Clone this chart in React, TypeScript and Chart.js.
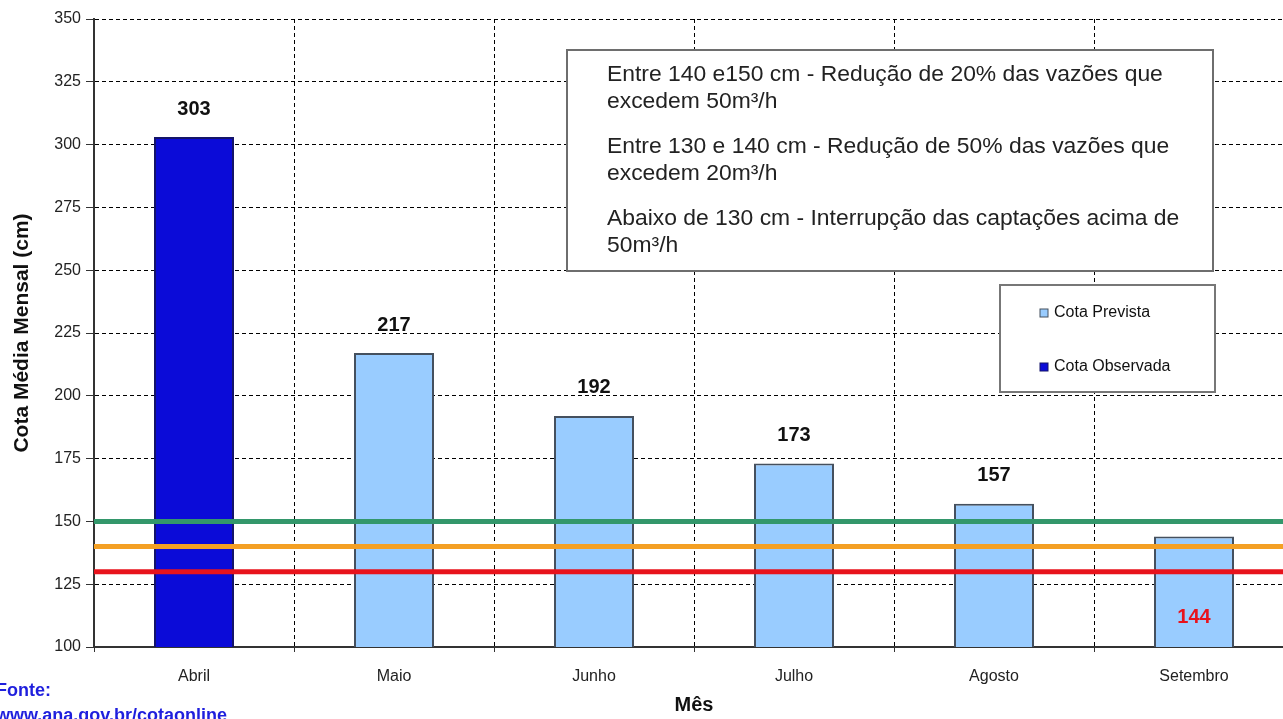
import React, { useEffect, useRef } from "react";
import { Chart, registerables } from "chart.js";

Chart.register(...registerables);

const months = ["Abril", "Maio", "Junho", "Julho", "Agosto", "Setembro"];
const observed = [303, null, null, null, null, null];
const predicted = [null, 217, 192, 173, 157, 144];
const thresholds = [150, 140, 130];
const thresholdColors = ["#33976B", "#F4A024", "#E8131C"];
const yMin = 100;
const yMax = 350;
const yStep = 25;
const ruleLines = [
  "Entre 140 e150 cm - Redução de 20% das vazões que",
  "excedem 50m³/h",
  "Entre 130 e 140 cm - Redução de 50% das vazões que",
  "excedem 20m³/h",
  "Abaixo de 130 cm - Interrupção das captações acima de",
  "50m³/h",
];
const sourceLines = ["Fonte:", "www.ana.gov.br/cotaonline"];

const FONT = "'Liberation Sans', Arial, sans-serif";
const OBS_COLOR = "#0B0BD8";
const OBS_BORDER = "#14146A";
const PRED_COLOR = "#99CCFF";
const PRED_BORDER = "#45505E";

const overlayPlugin = {
  id: "overlay",
  afterDatasetsDraw(chart: any) {
    const ctx = chart.ctx;
    const y = chart.scales.y;
    const area = chart.chartArea;

    // threshold lines
    ctx.save();
    thresholds.forEach((t, i) => {
      const py = y.getPixelForValue(t);
      ctx.strokeStyle = thresholdColors[i];
      ctx.lineWidth = 5;
      ctx.beginPath();
      ctx.moveTo(area.left, py);
      ctx.lineTo(area.right, py);
      ctx.stroke();
    });
    ctx.restore();

    // value labels
    ctx.save();
    ctx.textAlign = "center";
    ctx.textBaseline = "middle";
    ctx.font = `bold 20px ${FONT}`;
    chart.data.datasets.forEach((ds: any, di: number) => {
      const meta = chart.getDatasetMeta(di);
      ds.data.forEach((v: number | null, i: number) => {
        if (v == null) return;
        const el = meta.data[i];
        if (v < thresholds[0]) {
          ctx.fillStyle = "#E8131C";
          ctx.fillText(String(v), el.x, area.bottom - 30);
        } else {
          ctx.fillStyle = "#111";
          ctx.fillText(String(v), el.x, el.y - 28);
        }
      });
    });
    ctx.restore();

    // rules box
    ctx.save();
    ctx.fillStyle = "#fff";
    ctx.strokeStyle = "#6E6E6E";
    ctx.lineWidth = 2;
    ctx.fillRect(567, 50, 646, 221);
    ctx.strokeRect(567, 50, 646, 221);
    ctx.fillStyle = "#222";
    ctx.font = `22px ${FONT}`;
    ctx.textBaseline = "middle";
    ctx.textAlign = "left";
    const ys = [75, 102, 147, 174, 219, 246];
    ruleLines.forEach((l, i) => {
      ctx.save();
      ctx.translate(607, ys[i]);
      ctx.scale(1.04, 1);
      ctx.fillText(l, 0, 0);
      ctx.restore();
    });
    ctx.restore();

    // legend box
    ctx.save();
    ctx.fillStyle = "#fff";
    ctx.strokeStyle = "#777";
    ctx.lineWidth = 2;
    ctx.fillRect(1000, 285, 215, 107);
    ctx.strokeRect(1000, 285, 215, 107);
    const items = [
      { label: chart.data.datasets[1].label, fill: PRED_COLOR, border: PRED_BORDER, y: 313 },
      { label: chart.data.datasets[0].label, fill: OBS_COLOR, border: OBS_BORDER, y: 367 },
    ];
    ctx.font = `16px ${FONT}`;
    ctx.textBaseline = "middle";
    items.forEach((it) => {
      ctx.fillStyle = it.fill;
      ctx.fillRect(1040, it.y - 4, 8, 8);
      ctx.strokeStyle = it.border;
      ctx.lineWidth = 1;
      ctx.strokeRect(1040, it.y - 4, 8, 8);
      ctx.fillStyle = "#111";
      ctx.fillText(it.label, 1054, it.y);
    });
    ctx.restore();

    // source text
    ctx.save();
    ctx.fillStyle = "#1F1FDD";
    ctx.font = `bold 18px ${FONT}`;
    ctx.textBaseline = "middle";
    ctx.fillText(sourceLines[0], -4, 691);
    ctx.fillText(sourceLines[1], -4, 716);
    ctx.restore();
  },
};

export default function App() {
  const ref = useRef<HTMLCanvasElement | null>(null);
  useEffect(() => {
    if (!ref.current) return;
    const chart = new Chart(ref.current, {
      type: "bar",
      data: {
        labels: months,
        datasets: [
          {
            label: "Cota Observada",
            data: observed,
            backgroundColor: OBS_COLOR,
            borderColor: OBS_BORDER,
            borderWidth: 2,
            barPercentage: 0.4,
            categoryPercentage: 1,
          },
          {
            label: "Cota Prevista",
            data: predicted,
            backgroundColor: PRED_COLOR,
            borderColor: PRED_BORDER,
            borderWidth: 2,
            barPercentage: 0.4,
            categoryPercentage: 1,
          },
        ],
      },
      options: {
        responsive: false,
        maintainAspectRatio: false,
        animation: false,
        devicePixelRatio: 1,
        layout: { padding: { top: 19, right: 16, left: 0, bottom: 0 } },
        plugins: {
          legend: { display: false },
          tooltip: { enabled: false },
        },
        scales: {
          x: {
            stacked: true,
            afterFit: (s: any) => {
              s.height = 72;
            },
            grid: {
              color: "#000",
              lineWidth: 1,
              tickLength: 5,
              tickColor: "#333",
            },
            border: { color: "#333", width: 2, dash: [4, 3] },
            ticks: {
              color: "#222",
              font: { family: FONT, size: 16 },
              padding: 15,
            },
            title: {
              display: true,
              text: "Mês",
              color: "#111",
              font: { family: FONT, size: 20, weight: "bold" },
              padding: { top: 0, bottom: 2 },
            },
          },
          y: {
            stacked: true,
            min: yMin,
            max: yMax,
            afterFit: (s: any) => {
              s.width = 94;
            },
            grid: {
              color: "#000",
              lineWidth: 1,
              tickLength: 8,
              tickColor: "#333",
            },
            border: { color: "#333", width: 2, dash: [4, 3] },
            ticks: {
              stepSize: yStep,
              color: "#222",
              font: { family: FONT, size: 16 },
              padding: 5,
            },
            title: {
              display: true,
              text: "Cota Média Mensal (cm)",
              color: "#111",
              font: { family: FONT, size: 21, weight: "bold" },
              padding: { top: 10, bottom: 0 },
            },
          },
        },
      },
      plugins: [overlayPlugin],
    });
    return () => chart.destroy();
  }, []);

  return (
    <div
      style={{
        position: "fixed",
        left: 0,
        top: 0,
        width: 1283,
        height: 719,
        overflow: "hidden",
        background: "#fff",
      }}
    >
      <canvas ref={ref} width={1310} height={719} style={{ width: 1310, height: 719, display: "block" }} />
    </div>
  );
}
